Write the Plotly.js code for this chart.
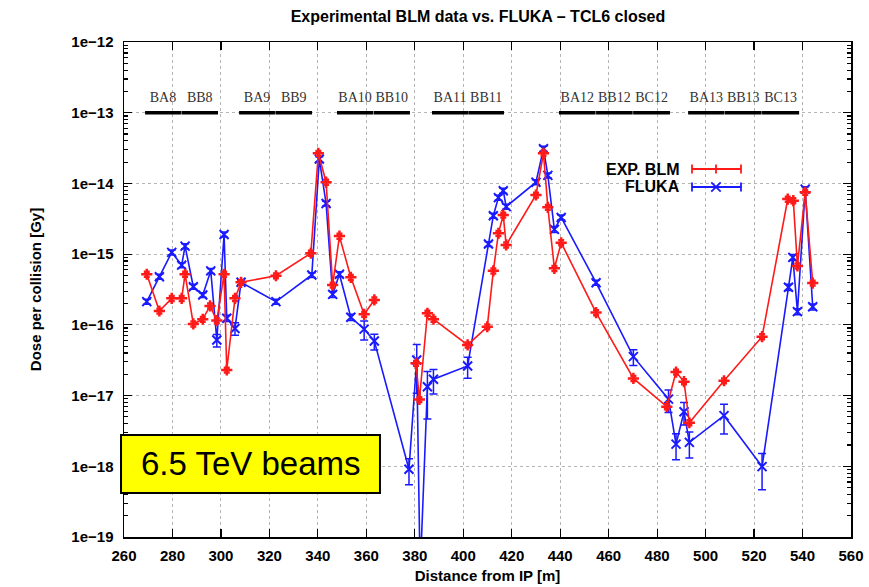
<!DOCTYPE html>
<html>
<head>
<meta charset="utf-8">
<script src="https://cdn.plot.ly/plotly-3.0.1.min.js"></script>
<style>html,body{margin:0;padding:0;background:#fff;}#chart{width:869px;height:587px;}</style>
</head>
<body>
<div id="chart"></div>
<script>
// Experimental BLM data
var expX = [269.4, 274.6, 279.7, 283.8, 285.2, 288.6, 292.5, 295.5, 298.3, 301.3, 302.4, 305.8, 308.3, 322.7, 337.1, 340.2, 343.4, 346.1, 348.9, 353.6, 359.1, 363.3, 370, 380.5, 381.9, 385.2, 387.7, 401.8, 409.9, 412.4, 414.5, 416.5, 417.7, 430.0, 433.1, 434.9, 437.6, 440.4, 454.8, 470.2, 484.0, 487.8, 491.1, 493.3, 507.6, 523.3, 533.9, 536.2, 537.9, 541.1, 544.2];
var expY = [5.2e-16, 1.57e-16, 2.37e-16, 2.37e-16, 5.2e-16, 1.03e-16, 1.2e-16, 1.85e-16, 1.15e-16, 5.2e-16, 2.3e-17, 2.37e-16, 4.0e-16, 4.95e-16, 1.03e-15, 2.67e-14, 1.04e-14, 3.66e-16, 1.8e-15, 4.7e-16, 1.41e-16, 2.25e-16, null, 2.86e-17, 8.8e-18, 1.46e-16, 1.2e-16, 5.2e-17, 9.4e-17, 5.8e-16, 1.97e-15, 3.57e-15, 1.35e-15, 6.86e-15, 2.67e-14, 4.6e-15, 6.3e-16, 1.45e-15, 1.49e-16, 1.75e-17, 6.97e-18, 2.15e-17, 1.57e-17, 4.13e-18, 1.62e-17, 6.8e-17, 6.0e-15, 5.7e-15, 6.8e-16, 7.5e-15, 3.9e-16];
var expRelErrPercent = 8;

// FLUKA simulation
var flukaX = [269.4, 274.6, 279.7, 283.8, 285.2, 288.6, 292.5, 295.8, 298.3, 301.3, 302.4, 305.8, 308.3, 322.7, 337.5, 340.6, 343.4, 346.1, 348.9, 353.6, 359.1, 363.3, 377.6, 380.8, 382.2, 385.2, 387.7, 401.8, 410.4, 412.4, 414.5, 416.5, 417.7, 430.0, 433.1, 434.9, 437.6, 440.4, 454.8, 470.2, 484.7, 487.8, 491.1, 493.3, 507.6, 523.3, 534.2, 536.0, 537.9, 541.1, 544.2];
var flukaY = [2.13e-16, 4.8e-16, 1.06e-15, 7.0e-16, 1.3e-15, 3.46e-16, 2.64e-16, 5.8e-16, 6.1e-17, 1.9e-15, 1.24e-16, 8.9e-17, 4.0e-16, 2.13e-16, 5.07e-16, 2.21e-14, 5.2e-15, 2.7e-16, 5.2e-16, 1.28e-16, 8.7e-17, 5.9e-17, 9.1e-19, 3.18e-17, 3e-20, 1.33e-17, 1.7e-17, 2.62e-17, 1.39e-15, 3.5e-15, 6.3e-15, 7.9e-15, 4.7e-15, 1.04e-14, 3.1e-14, 1.3e-14, 2.24e-15, 3.3e-15, 3.95e-16, 3.55e-17, 8.9e-18, 2.06e-18, 5.9e-18, 2.18e-18, 5.2e-18, 9.9e-19, 3.4e-16, 9.0e-16, 1.54e-16, 8.3e-15, 1.8e-16];
var flukaRelErr = [0.08, 0.08, 0.08, 0.08, 0.08, 0.08, 0.08, 0.08, 0.2, 0.08, 0.1, 0.2, 0.08, 0.08, 0.08, 0.08, 0.08, 0.1, 0.08, 0.1, 0.3, 0.25, 0.4, 0.66, 0, 0.65, 0.38, 0.33, 0.08, 0.08, 0.08, 0.08, 0.08, 0.08, 0.08, 0.08, 0.1, 0.08, 0.08, 0.25, 0.35, 0.4, 0.35, 0.4, 0.45, 0.53, 0.1, 0.1, 0.1, 0.08, 0.1];

// Magnet layout (positions in m)
var magnetNames = ['BA8','BB8','BA9','BB9','BA10','BB10','BA11','BB11','BA12','BB12','BC12','BA13','BB13','BC13'];
var magnetStart = [268.7, 283.7, 307.5, 322.5, 347.9, 363.0, 387.1, 402.1, 439.5, 454.8, 470.1, 492.8, 508.0, 523.3];
var magnetEnd   = [283.5, 298.8, 322.3, 337.6, 362.8, 378.0, 402.0, 416.8, 454.6, 469.9, 485.3, 507.8, 523.1, 538.6];
var magnetBarLevel = 1e-13;
var magnetLabelLevel = 1.6e-13;

var xTickVals = [260, 280, 300, 320, 340, 360, 380, 400, 420, 440, 460, 480, 500, 520, 540, 560];

var RED = '#ff1a1a', BLUE = '#1a1aff';
var fontTick = {family: '"Liberation Sans Narrow", "Liberation Sans", Arial, sans-serif', size: 15, color: '#000', weight: 'bold'};

var flukaErr = flukaY.map(function(v, i){ return v * flukaRelErr[i]; });

var barX = [], barY = [], labX = [], labY = [];
for (var i = 0; i < magnetNames.length; i++) {
  barX.push(magnetStart[i], magnetEnd[i], null);
  barY.push(magnetBarLevel, magnetBarLevel, null);
  labX.push((magnetStart[i] + magnetEnd[i]) / 2);
  labY.push(magnetLabelLevel);
}

var traces = [
  {x: barX, y: barY, mode: 'lines', line: {color: '#000', width: 3.5}, hoverinfo: 'skip', showlegend: false},
  {x: labX, y: labY, mode: 'text', text: magnetNames, textposition: 'middle center',
   textfont: {family: '"Liberation Serif", "DejaVu Serif", serif', size: 14, color: '#333'}, hoverinfo: 'skip', showlegend: false},
  {x: flukaX, y: flukaY, name: 'FLUKA', mode: 'lines+markers',
   line: {color: BLUE, width: 1.6},
   marker: {symbol: 'x-thin-open', size: 9, color: BLUE, line: {color: BLUE, width: 2}},
   error_y: {type: 'data', array: flukaErr, visible: true, color: BLUE, thickness: 1.5, width: 4},
   showlegend: false},
  {x: expX, y: expY, name: 'EXP. BLM', mode: 'lines+markers',
   line: {color: RED, width: 1.6},
   marker: {symbol: 'cross-thin-open', size: 8, color: RED, line: {color: RED, width: 2.5}},
   error_y: {type: 'percent', value: expRelErrPercent, visible: true, color: RED, thickness: 2.5, width: 3},
   showlegend: false}
];

// legend geometry (paper coords)
var lx0 = 0.7813, lx1 = 0.8487, lxm = 0.8143, ly1 = 0.7434, ly2 = 0.7071, cap = 0.009;
var shapes = [
  {type:'line', xref:'paper', yref:'paper', x0:lx0, x1:lx1, y0:ly1, y1:ly1, line:{color:RED, width:1.8}},
  {type:'line', xref:'paper', yref:'paper', x0:lx0, x1:lx0, y0:ly1-cap, y1:ly1+cap, line:{color:RED, width:1.8}},
  {type:'line', xref:'paper', yref:'paper', x0:lx1, x1:lx1, y0:ly1-cap, y1:ly1+cap, line:{color:RED, width:1.8}},
  {type:'line', xref:'paper', yref:'paper', x0:lxm, x1:lxm, y0:ly1-cap, y1:ly1+cap, line:{color:RED, width:1.8}},
  {type:'line', xref:'paper', yref:'paper', x0:lx0, x1:lx1, y0:ly2, y1:ly2, line:{color:BLUE, width:1.8}},
  {type:'line', xref:'paper', yref:'paper', x0:lx0, x1:lx0, y0:ly2-cap, y1:ly2+cap, line:{color:BLUE, width:1.8}},
  {type:'line', xref:'paper', yref:'paper', x0:lx1, x1:lx1, y0:ly2-cap, y1:ly2+cap, line:{color:BLUE, width:1.8}},
  {type:'line', xref:'paper', yref:'paper', x0:lxm-0.0065, x1:lxm+0.0065, y0:ly2-0.0095, y1:ly2+0.0095, line:{color:BLUE, width:1.8}},
  {type:'line', xref:'paper', yref:'paper', x0:lxm-0.0065, x1:lxm+0.0065, y0:ly2+0.0095, y1:ly2-0.0095, line:{color:BLUE, width:1.8}},
  // yellow energy box
  {type:'rect', xref:'paper', yref:'paper', x0:-0.0041, x1:0.3521, y0:0.0889, y1:0.2061, layer:'above',
   fillcolor:'#ffff00', line:{color:'#000', width:2}}
];

var annotations = [
  {xref:'paper', yref:'paper', x:0.7675, y:ly1, xanchor:'right', yanchor:'middle', showarrow:false,
   text:'EXP. BLM', font:{family:'"Liberation Sans", Arial, sans-serif', size:16, weight:'bold', color:'#000'}},
  {xref:'paper', yref:'paper', x:0.7675, y:ly2, xanchor:'right', yanchor:'middle', showarrow:false,
   text:'FLUKA', font:{family:'"Liberation Sans", Arial, sans-serif', size:16, weight:'bold', color:'#000'}},
  {xref:'paper', yref:'paper', x:0.1747, y:0.1475, xanchor:'center', yanchor:'middle', showarrow:false,
   text:'6.5 TeV beams', font:{family:'"Liberation Sans", Arial, sans-serif', size:33, color:'#000'}}
];

var layout = {
  width: 869, height: 587,
  margin: {l: 124, r: 18, t: 42, b: 50},
  paper_bgcolor: '#fff', plot_bgcolor: '#fff',
  title: {text: 'Experimental BLM data vs. FLUKA \u2013 TCL6 closed', x: 0.55, xanchor: 'center', y: 0.972, yanchor: 'middle',
          font: {family: '"Liberation Sans Narrow", "Liberation Sans", Arial, sans-serif', size: 16, weight: 'bold', color: '#000'}},
  xaxis: {
    range: [260, 560], tickmode: 'array', tickvals: xTickVals, ticks: 'inside', ticklen: 8, tickwidth: 1.2, tickcolor: '#000',
    showline: true, linecolor: '#000', linewidth: 1.5, mirror: 'allticks', zeroline: false,
    showgrid: true, gridcolor: '#b5b5b5', griddash: 'dot', gridwidth: 1,
    tickfont: fontTick, ticklabelstandoff: 4,
    title: {text: 'Distance from IP [m]', standoff: 8, font: fontTick}
  },
  yaxis: {
    type: 'log', range: [-19, -12], dtick: 1, exponentformat: 'e', showexponent: 'all',
    ticks: 'inside', ticklen: 8, tickwidth: 1.2, tickcolor: '#000',
    minor: {ticks: 'inside', ticklen: 4, tickcolor: '#000', dtick: 'D1', showgrid: false},
    showline: true, linecolor: '#000', linewidth: 1.5, mirror: 'allticks', zeroline: false,
    showgrid: true, gridcolor: '#b5b5b5', griddash: 'dot', gridwidth: 1,
    tickfont: fontTick, ticklabelstandoff: 6,
    title: {text: 'Dose per collision [Gy]', standoff: 26, font: fontTick}
  },
  shapes: shapes,
  annotations: annotations,
  showlegend: false
};

Plotly.newPlot('chart', traces, layout, {displayModeBar: false, staticPlot: true});
</script>
</body>
</html>
